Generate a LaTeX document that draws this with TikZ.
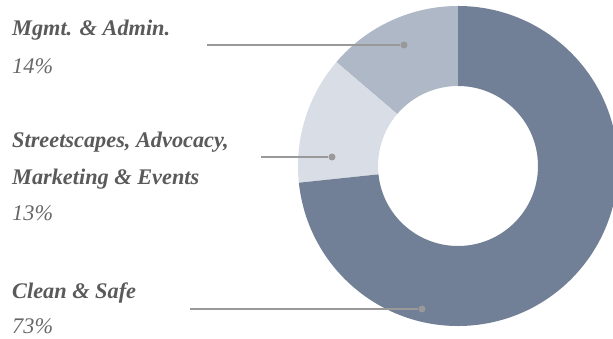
\documentclass[tikz,border=0pt]{standalone}
\usepackage{fontspec}
\setmainfont{Liberation Serif}
\usetikzlibrary{positioning}
\definecolor{slicedark}{HTML}{718096}
\definecolor{slicemid}{HTML}{AEB8C6}
\definecolor{slicelight}{HTML}{D9DEE6}
\definecolor{leader}{HTML}{999999}
\definecolor{labeltext}{HTML}{5A5A5A}
\tikzstyle{heading} = [anchor=base west, inner sep=0pt, text=labeltext, font=\fontsize{22.3}{24}\selectfont\bfseries\itshape]
\tikzstyle{share} = [anchor=base west, inner sep=0pt, text=labeltext!92, font=\fontsize{22.3}{24}\selectfont\itshape]
\tikzstyle{leaderline} = [line width=2.4pt, color=leader]
\tikzstyle{dot} = [circle, fill=leader, inner sep=0pt, minimum size=7pt]

\begin{document}
\begin{tikzpicture}[x=1pt, y=1pt]
    \useasboundingbox (0,0) rectangle (613,339);
    \clip (0,0) rectangle (613,339);
    % donut
    \begin{scope}[shift={(458,173)}]
        \fill [slicemid] (90:160) arc[start angle=90, end angle=139.5, radius=160] -- (139.5:80) arc[start angle=139.5, end angle=90, radius=80] -- cycle;
        \fill [slicelight] (139.5:160) arc[start angle=139.5, end angle=186, radius=160] -- (186:80) arc[start angle=186, end angle=139.5, radius=80] -- cycle;
        \fill [slicedark] (186:160) arc[start angle=186, end angle=450, radius=160] -- (450:80) arc[start angle=450, end angle=186, radius=80] -- cycle;
    \end{scope}
    % labels
    \node (mgmt) [heading] at (12,303) {Mgmt. \& Admin.};
    \node (mgmtpct) [share] at (12,265) {14\%};
    \node (street) [heading] at (12,191) {Streetscapes, Advocacy,};
    \node (market) [heading] at (12,154) {Marketing \& Events};
    \node (streetpct) [share] at (12,118) {13\%};
    \node (clean) [heading] at (12,40) {Clean \& Safe};
    \node (cleanpct) [share] at (12,5) {73\%};
    % leaders
    \coordinate (mgmtstart) at (207,294);
    \node (mgmtdot) [dot] at (404,294) {};
    \coordinate (streetstart) at (261,182);
    \node (streetdot) [dot] at (332,182) {};
    \coordinate (cleanstart) at (190,30);
    \node (cleandot) [dot] at (422,30) {};
    \draw [leaderline] (mgmtstart) -- (mgmtdot);
    \draw [leaderline] (streetstart) -- (streetdot);
    \draw [leaderline] (cleanstart) -- (cleandot);
\end{tikzpicture}
\end{document}
